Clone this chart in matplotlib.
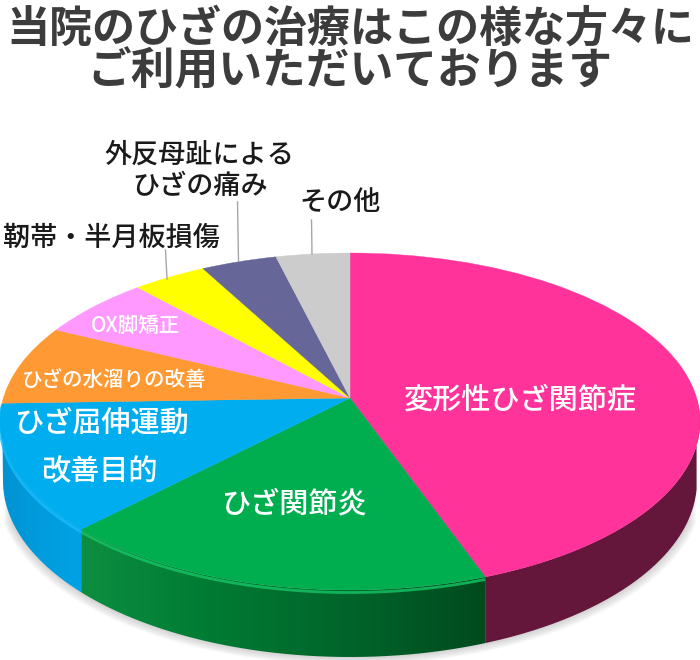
import numpy as np
import matplotlib
matplotlib.use('Agg')
import matplotlib.pyplot as plt
from matplotlib.path import Path
from matplotlib.patches import PathPatch
from matplotlib.colors import LinearSegmentedColormap

plt.rcParams['font.family'] = ['Noto Sans CJK JP', 'DejaVu Sans']

# Dane (udział w %)
categories = ['変形性ひざ関節症', 'ひざ関節炎', 'ひざ屈伸運動\n改善目的', 'ひざの水溜りの改善',
              'OX脚矯正', '靭帯・半月板損傷', '外反母趾による\nひざの痛み', 'その他']
values = [44.5, 17.8, 12.2, 7.7, 6.0, 3.9, 4.0, 3.9]
colors = ['#FF3399', '#00AD4F', '#00AEEF', '#FF9933', '#FF99FF', '#FFFF00', '#666699', '#CCCCCC']
title_lines = ['当院のひざの治療はこの様な方々に', 'ご利用いただいております']

# Rzut perspektywiczny górnej powierzchni tortu
def project(uv, cy=398.0, a=346.6, r=165.2, k=0.1395):
    w = 1 + k * uv[:, 1]
    return np.column_stack([350 + a * uv[:, 0] / w, cy - r * uv[:, 1] / w])

def rim(t1, t2):
    t = np.radians(np.linspace(t1, t2, 120))
    return project(np.column_stack([np.cos(t), np.sin(t)]))

# Dolna krawędź: te same x co na górze, y z elipsy podstawy
def base(top, cy=481.0, rx=347.0, ry=176.0):
    dx = np.clip(top[:, 0] - 350, -rx, rx)
    return np.column_stack([350 + dx, cy + ry * np.sqrt(1 - (dx / rx) ** 2)])

fig = plt.figure(figsize=(7, 6.6), dpi=100)
ax = fig.add_axes([0, 0, 1, 1])
wedges, _ = ax.pie(values, colors=colors, startangle=90, counterclock=False)

# Cień pod tortem
for i in range(1, 11):
    outline = base(rim(-180, 0), cy=481 + i * 0.8, rx=347 + i * 0.6)
    ax.fill(outline[:, 0], outline[:, 1], color='#808080', alpha=0.035, lw=0, zorder=1)

# Ściany boczne (tylko przód)
side_stops = {
    0: ['#65163B', '#65163B'],
    1: ['#0C8E40', '#007A33', '#00642A', '#004A1E'],
    2: ['#0092D2', '#009CDD', '#00A2E4'],
}
for i, stops in side_stops.items():
    t1 = max(wedges[i].theta1, -180)
    t2 = min(wedges[i].theta2, 0)
    top = rim(t1, t2)
    low = base(top)
    pts = np.vstack([top, low[::-1], top[:1]])
    patch = PathPatch(Path(pts), fc='none', ec='none', zorder=2)
    ax.add_patch(patch)
    x0, x1 = pts[:, 0].min(), pts[:, 0].max()
    y0, y1 = pts[:, 1].min(), pts[:, 1].max()
    cmap = LinearSegmentedColormap.from_list('side', stops)
    im = ax.imshow(np.linspace(0, 1, 256)[None, :], cmap=cmap, extent=(x0, x1, y1, y0),
                   aspect='auto', zorder=2, interpolation='bilinear')
    im.set_clip_path(patch)

# Górna powierzchnia
for wedge, color in zip(wedges, colors):
    wedge.set_visible(False)
    path = wedge.get_path()
    verts = project(wedge.get_patch_transform().transform(path.vertices))
    ax.add_patch(PathPatch(Path(verts, path.codes), fc=color, ec=color, lw=0.3, zorder=3))

# Jaśniejsza krawędź
bevel = {1: '#16C766', 2: '#18BDFF'}
for i, c in bevel.items():
    edge = rim(max(wedges[i].theta1, -180), wedges[i].theta2)
    ax.plot(edge[:, 0], edge[:, 1] + 2.5, color=c, lw=2, alpha=0.8, zorder=2.5, solid_capstyle='butt')

# Linie prowadzące
for xs, ys in [((167, 165.5), (279, 250)), ((238.5, 237.5), (261, 202)), ((312, 311.5), (254, 220))]:
    ax.plot(xs, ys, color='#A6A6A6', lw=1, zorder=4)

# Podpisy
ax.text(520, 400, categories[0], color='white', fontsize=21, fontweight='medium', ha='center', va='center', zorder=5)
ax.text(294, 504, categories[1], color='white', fontsize=21, fontweight='medium', ha='center', va='center', zorder=5)
line_a, line_b = categories[2].split('\n')
ax.text(101, 423, line_a, color='white', fontsize=21, fontweight='medium', ha='center', va='center', zorder=5)
ax.text(99, 472, line_b, color='white', fontsize=21, fontweight='medium', ha='center', va='center', zorder=5)
ax.text(114, 380, categories[3], color='white', fontsize=14.8, fontweight='medium', ha='center', va='center', zorder=5)
ax.text(135, 326, categories[4], color='white', fontsize=14.8, fontweight='medium', ha='center', va='center', zorder=5)
ax.text(111, 238, categories[5], color='#1A1A1A', fontsize=19.5, fontweight='medium', ha='center', va='center', zorder=5)
line_a, line_b = categories[6].split('\n')
ax.text(199, 155, line_a, color='#1A1A1A', fontsize=19.5, fontweight='medium', ha='center', va='center', zorder=5)
ax.text(200, 187, line_b, color='#1A1A1A', fontsize=19.5, fontweight='medium', ha='center', va='center', zorder=5)
ax.text(340, 202, categories[7], color='#1A1A1A', fontsize=19.5, fontweight='medium', ha='center', va='center', zorder=5)

# Tytuł
ax.text(350, 29, title_lines[0], color='#3C3C3C', fontsize=31, fontweight='bold', ha='center', va='center')
ax.text(350, 72, title_lines[1], color='#3C3C3C', fontsize=31.5, fontweight='bold', ha='center', va='center')

ax.set_aspect('auto')
ax.set_xlim(0, 700)
ax.set_ylim(660, 0)
ax.axis('off')
fig.savefig('out.png', dpi=100, facecolor='white')
